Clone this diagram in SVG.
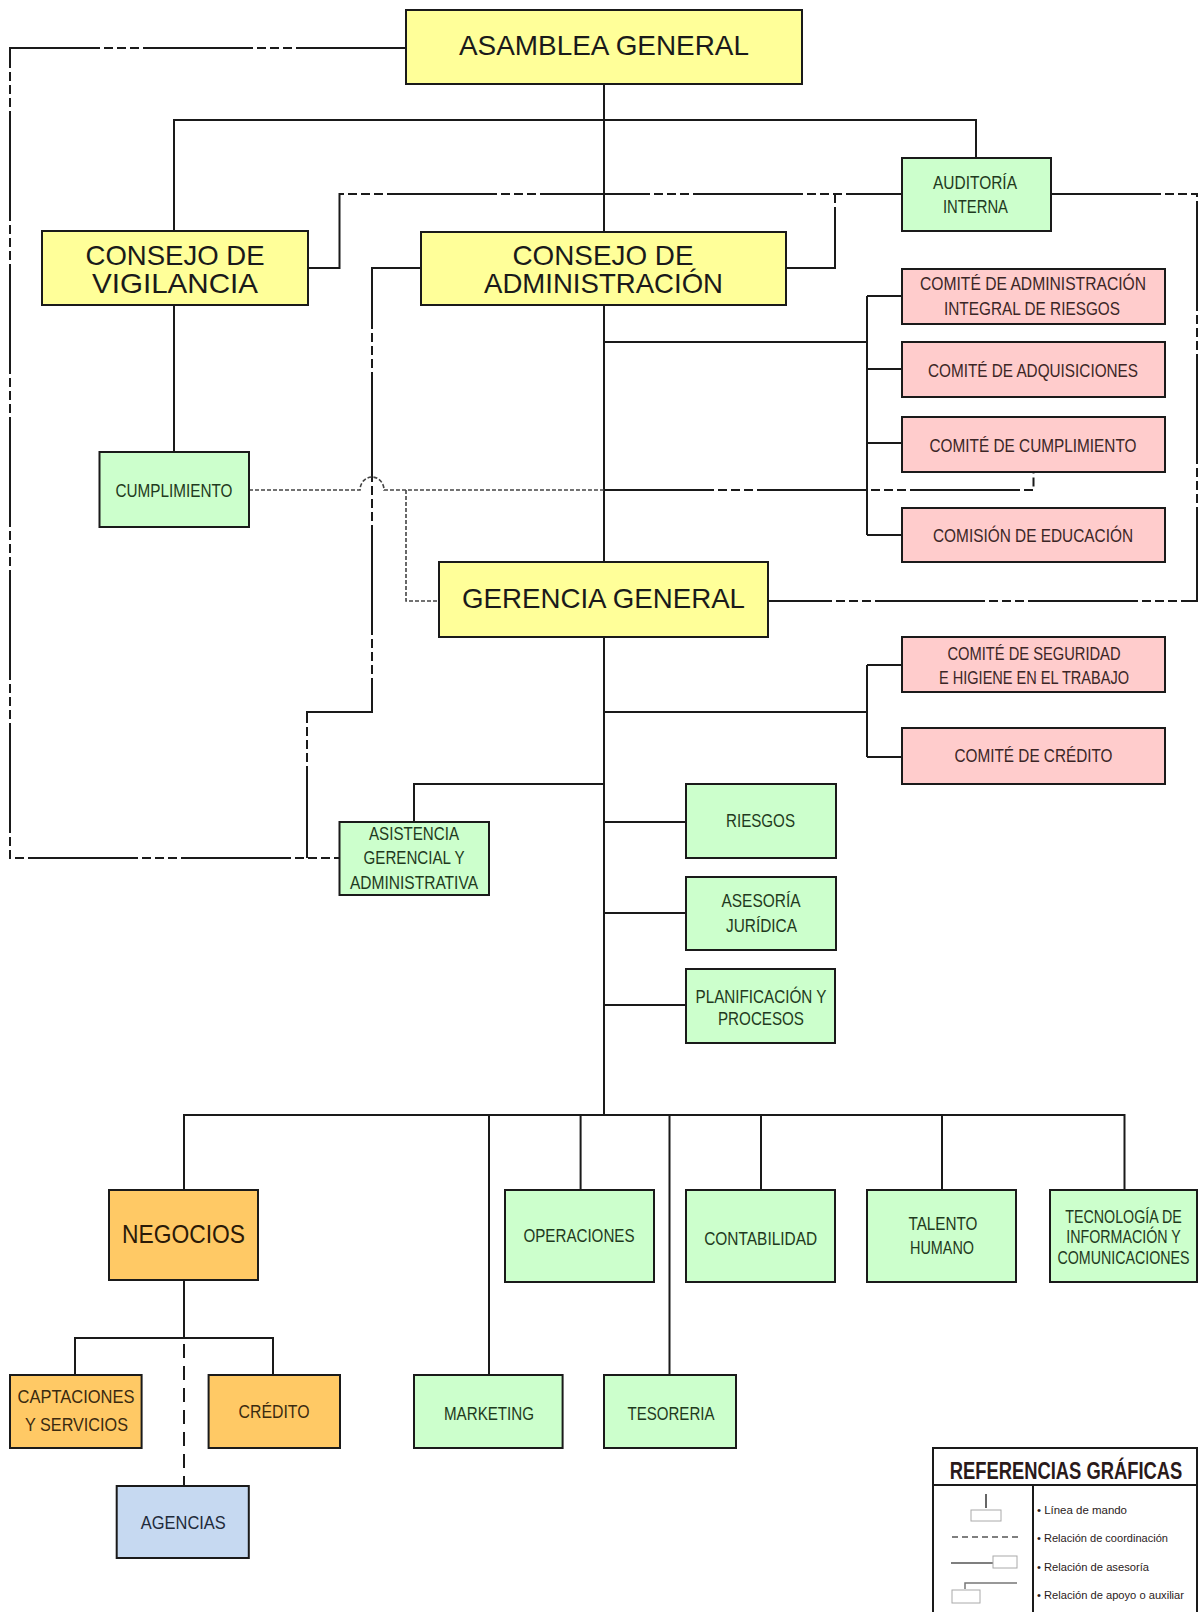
<svg xmlns="http://www.w3.org/2000/svg" width="1199" height="1612" viewBox="0 0 1199 1612">
<style>
.box{stroke:#1a1a1a;stroke-width:2}
.y{fill:#FFFF99}.g{fill:#CCFFCC}.p{fill:#FFCCCC}.o{fill:#FFC965}.b{fill:#C6D9F1}
text{font-family:"Liberation Sans",Arial,sans-serif;text-anchor:middle}
.big{font-size:28px;fill:#1a1a1a}
.sm{font-size:19px}
.tg{fill:#1f3a20}.tp{fill:#3b2626}.to{fill:#3a2a10}.tb{fill:#1e2a3a}
.ln{fill:none;stroke:#1a1a1a;stroke-width:2}
.coord{fill:none;stroke:#1a1a1a;stroke-width:2;stroke-dasharray:110 4 9 4 9 4 9 4}
.dot{fill:none;stroke:#444;stroke-width:1.6;stroke-dasharray:4 2}
.dash{fill:none;stroke:#1a1a1a;stroke-width:2;stroke-dasharray:14 8}
.leg{font-size:10.5px;fill:#2a1a1a;text-anchor:start}
</style>
<rect width="1199" height="1612" fill="#ffffff"/>
<g id="connectors">
<path class="ln" d="M604,84 V232"/>
<path class="ln" d="M174,231 V120 H976 V158"/>
<path class="ln" d="M604,305 V562"/>
<path class="ln" d="M604,342 H867 M867,296 V535 M867,296 H902 M867,369 H902 M867,443 H902 M867,535 H902"/>
<path class="ln" d="M174,305 V452"/>
<path class="ln" d="M604,637 V1115"/>
<path class="ln" d="M604,712 H867 M867,665 V757 M867,665 H902 M867,757 H902"/>
<path class="ln" d="M604,784 H414 V822"/>
<path class="ln" d="M604,822 H686 M604,913 H686 M604,1005 H686"/>
<path class="ln" d="M184,1190 V1115 H1124.5 V1190 M489,1115 V1375 M580.6,1115 V1190 M669.5,1115 V1375 M761,1115 V1190 M942,1115 V1190"/>
<path class="ln" d="M184,1280 V1338 M75,1375 V1338 H273 V1375"/>
<path class="dash" d="M184,1344 V1486"/>
<path class="coord" d="M406,48 H10 V858 H339.5"/>
<path class="coord" d="M421,268 H372 V712 H307 V858"/>
<path class="coord" d="M308,268 H339.5 V194 H902"/>
<path class="coord" d="M786,268 H835 V194"/>
<path class="coord" d="M1051,194 H1197 V601 H768"/>
<path class="dot" d="M249,490 H360 A12,13 0 0 1 384,490 H604"/>
<path class="dot" d="M406,490 V601 H439"/>
<path class="coord" d="M604,490 H1033.5 V472"/>
</g>
<g id="asamblea"><rect class="box y" x="406" y="10" width="396" height="74"/><text class="big" x="604" y="55" textLength="290" lengthAdjust="spacingAndGlyphs">ASAMBLEA GENERAL</text></g>
<g id="consejo-vigilancia"><rect class="box y" x="42" y="231" width="266" height="74"/><text class="big" x="175" y="265" textLength="179" lengthAdjust="spacingAndGlyphs">CONSEJO DE</text><text class="big" x="175" y="293" textLength="166" lengthAdjust="spacingAndGlyphs">VIGILANCIA</text></g>
<g id="consejo-administracion"><rect class="box y" x="421" y="232" width="365" height="73"/><text class="big" x="603" y="265" textLength="181" lengthAdjust="spacingAndGlyphs">CONSEJO DE</text><text class="big" x="603.5" y="293" textLength="239" lengthAdjust="spacingAndGlyphs">ADMINISTRACIÓN</text></g>
<g id="auditoria"><rect class="box g" x="902" y="158" width="149" height="73"/><text class="sm tg" x="975" y="189" textLength="84" lengthAdjust="spacingAndGlyphs">AUDITORÍA</text><text class="sm tg" x="975.5" y="213" textLength="65" lengthAdjust="spacingAndGlyphs">INTERNA</text></g>
<g id="cumplimiento"><rect class="box g" x="99.5" y="452" width="149.5" height="75"/><text class="sm tg" x="174" y="497" textLength="117" lengthAdjust="spacingAndGlyphs">CUMPLIMIENTO</text></g>
<g id="comite-riesgos"><rect class="box p" x="902" y="269" width="263" height="55"/><text class="sm tp" x="1033" y="290" textLength="226" lengthAdjust="spacingAndGlyphs">COMITÉ  DE ADMINISTRACIÓN</text><text class="sm tp" x="1032" y="315" textLength="176" lengthAdjust="spacingAndGlyphs">INTEGRAL DE RIESGOS</text></g>
<g id="comite-adquisiciones"><rect class="box p" x="902" y="342" width="263" height="55"/><text class="sm tp" x="1033" y="377" textLength="210" lengthAdjust="spacingAndGlyphs">COMITÉ DE ADQUISICIONES</text></g>
<g id="comite-cumplimiento"><rect class="box p" x="902" y="417" width="263" height="55"/><text class="sm tp" x="1033" y="452" textLength="207" lengthAdjust="spacingAndGlyphs">COMITÉ DE CUMPLIMIENTO</text></g>
<g id="comision-educacion"><rect class="box p" x="902" y="508" width="263" height="54"/><text class="sm tp" x="1033" y="542" textLength="200" lengthAdjust="spacingAndGlyphs">COMISIÓN DE EDUCACIÓN</text></g>
<g id="gerencia"><rect class="box y" x="439" y="562" width="329" height="75"/><text class="big" x="603.5" y="608" textLength="283" lengthAdjust="spacingAndGlyphs">GERENCIA GENERAL</text></g>
<g id="comite-seguridad"><rect class="box p" x="902" y="637" width="263" height="55"/><text class="sm tp" x="1034" y="660" textLength="173" lengthAdjust="spacingAndGlyphs">COMITÉ DE SEGURIDAD</text><text class="sm tp" x="1034" y="684" textLength="190" lengthAdjust="spacingAndGlyphs">E HIGIENE EN EL TRABAJO</text></g>
<g id="comite-credito"><rect class="box p" x="902" y="728" width="263" height="56"/><text class="sm tp" x="1033.5" y="762" textLength="158" lengthAdjust="spacingAndGlyphs">COMITÉ DE CRÉDITO</text></g>
<g id="riesgos"><rect class="box g" x="686" y="784" width="150" height="74"/><text class="sm tg" x="760.5" y="827" textLength="69" lengthAdjust="spacingAndGlyphs">RIESGOS</text></g>
<g id="asesoria"><rect class="box g" x="686" y="877" width="150" height="73"/><text class="sm tg" x="761" y="907" textLength="79" lengthAdjust="spacingAndGlyphs">ASESORÍA</text><text class="sm tg" x="761.5" y="931.5" textLength="71" lengthAdjust="spacingAndGlyphs">JURÍDICA</text></g>
<g id="planificacion"><rect class="box g" x="686" y="969" width="149" height="74"/><text class="sm tg" x="761" y="1003" textLength="131" lengthAdjust="spacingAndGlyphs">PLANIFICACIÓN Y</text><text class="sm tg" x="761" y="1025" textLength="86" lengthAdjust="spacingAndGlyphs">PROCESOS</text></g>
<g id="asistencia"><rect class="box g" x="339.5" y="822" width="149.5" height="73"/><text class="sm tg" x="414" y="840" textLength="90" lengthAdjust="spacingAndGlyphs">ASISTENCIA</text><text class="sm tg" x="414" y="864" textLength="101" lengthAdjust="spacingAndGlyphs">GERENCIAL Y</text><text class="sm tg" x="414" y="889" textLength="128" lengthAdjust="spacingAndGlyphs">ADMINISTRATIVA</text></g>
<g id="negocios"><rect class="box o" x="109" y="1190" width="149" height="90"/><text x="183.5" y="1243" style="font-size:26px;fill:#2a1a08" textLength="123" lengthAdjust="spacingAndGlyphs">NEGOCIOS</text></g>
<g id="operaciones"><rect class="box g" x="505" y="1190" width="149" height="92"/><text class="sm tg" x="579" y="1242" textLength="111" lengthAdjust="spacingAndGlyphs">OPERACIONES</text></g>
<g id="contabilidad"><rect class="box g" x="686" y="1190" width="149" height="92"/><text class="sm tg" x="760.7" y="1245" textLength="113" lengthAdjust="spacingAndGlyphs">CONTABILIDAD</text></g>
<g id="talento"><rect class="box g" x="867" y="1190" width="149" height="92"/><text class="sm tg" x="943" y="1230" textLength="69" lengthAdjust="spacingAndGlyphs">TALENTO</text><text class="sm tg" x="942" y="1254" textLength="64" lengthAdjust="spacingAndGlyphs">HUMANO</text></g>
<g id="tecnologia"><rect class="box g" x="1050" y="1190" width="147" height="92"/><g transform="translate(1123.5,0) scale(0.75,1)"><text class="sm tg" x="0" y="1223">TECNOLOGÍA DE</text><text class="sm tg" x="0" y="1243">INFORMACIÓN Y</text><text class="sm tg" x="0" y="1264">COMUNICACIONES</text></g></g>
<g id="captaciones"><rect class="box o" x="10" y="1375" width="131.6" height="73"/><text class="sm to" x="76" y="1403" textLength="117" lengthAdjust="spacingAndGlyphs">CAPTACIONES</text><text class="sm to" x="76.5" y="1431" textLength="103" lengthAdjust="spacingAndGlyphs">Y SERVICIOS</text></g>
<g id="credito"><rect class="box o" x="208.6" y="1375" width="131.4" height="73"/><text class="sm to" x="274" y="1418" textLength="71" lengthAdjust="spacingAndGlyphs">CRÉDITO</text></g>
<g id="marketing"><rect class="box g" x="414" y="1375" width="148.6" height="73"/><text class="sm tg" x="489" y="1420" textLength="90" lengthAdjust="spacingAndGlyphs">MARKETING</text></g>
<g id="tesoreria"><rect class="box g" x="604" y="1375" width="132" height="73"/><text class="sm tg" x="671" y="1420" textLength="87" lengthAdjust="spacingAndGlyphs">TESORERIA</text></g>
<g id="agencias"><rect class="box b" x="116.7" y="1486" width="132.1" height="72"/><text class="sm tb" x="183.3" y="1529" textLength="85" lengthAdjust="spacingAndGlyphs">AGENCIAS</text></g>
<g id="legend">
<rect x="933" y="1448" width="264" height="180" fill="#ffffff" stroke="#1a1a1a" stroke-width="2"/>
<path d="M933,1485 H1197 M1033,1485 V1612" stroke="#1a1a1a" stroke-width="2" fill="none"/>
<g transform="translate(1066,0) scale(0.765,1)"><text x="0" y="1479" style="font-size:24px;font-weight:bold;fill:#2a1a1a">REFERENCIAS GRÁFICAS</text></g>
<path d="M986,1494 V1508" stroke="#333" stroke-width="1.5"/>
<rect x="971" y="1510" width="30" height="11" fill="none" stroke="#aaa" stroke-width="1"/>
<path d="M952,1537 H1018" stroke="#555" stroke-width="1.5" stroke-dasharray="6 4" fill="none"/>
<path d="M951,1563 H993" stroke="#555" stroke-width="1.5"/>
<rect x="993" y="1556" width="24" height="12" fill="none" stroke="#aaa" stroke-width="1"/>
<path d="M965,1589 V1583 H1017" stroke="#777" stroke-width="1.5" fill="none"/>
<rect x="952" y="1590" width="28" height="13" fill="none" stroke="#aaa" stroke-width="1"/>
<text class="leg" x="1037" y="1514" textLength="90" lengthAdjust="spacingAndGlyphs">• Línea de mando</text>
<text class="leg" x="1037" y="1542" textLength="131" lengthAdjust="spacingAndGlyphs">• Relación de coordinación</text>
<text class="leg" x="1037" y="1571" textLength="112" lengthAdjust="spacingAndGlyphs">• Relación de asesoría</text>
<text class="leg" x="1037" y="1599" textLength="147" lengthAdjust="spacingAndGlyphs">• Relación de apoyo o auxiliar</text>
</g>
</svg>
